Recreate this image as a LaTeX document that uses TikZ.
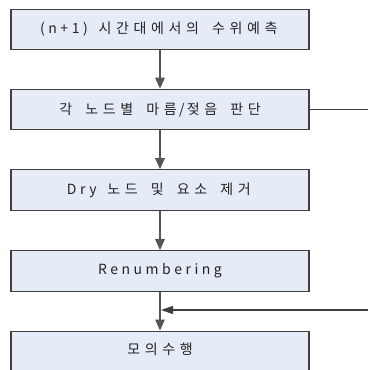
\documentclass[tikz,border=0pt]{standalone}
\usepackage{fontspec}
\newfontfamily\kr[LetterSpace=25]{Noto Sans CJK KR}
\usetikzlibrary{arrows.meta}
\definecolor{boxfill}{HTML}{E6ECF7}
\definecolor{boxline}{HTML}{404040}
\definecolor{arrline}{HTML}{555555}
\definecolor{txt}{HTML}{222222}
\makeatletter
\def\ks#1{\ks@#1\relax}
\def\ks@#1{\ifx#1\relax\else\ks@one{#1}\expandafter\ks@\fi}
\def\ks@one#1{\ifx#1~\hspace{8.5pt}\else\ifnum`#1>127 \makebox[17.5pt]{#1}\else #1\fi\fi}
\makeatother
\tikzset{
  x=1pt,y=1pt,
  steptext/.style={text=txt,inner sep=0pt,font=\kr\fontsize{14}{16}\selectfont},
  stepbox/.style={steptext,draw=boxline,line width=1.2pt,fill=boxfill,minimum width=298pt,minimum height=40.5pt},
  flow/.style={draw=arrline,line width=1.3pt,-{Triangle[length=11pt,width=9.5pt]}},
  fb/.style={draw=boxline,line width=1.2pt},
}
\begin{document}
\begin{tikzpicture}
\useasboundingbox (0,0) rectangle (368,-370);
\clip (0,0) rectangle (368,-370);
\node[stepbox] (b1) at (160,-29.5) {\ks{(n+1)~시간대에서의~수위예측}};
\node[stepbox] (b2) at (160,-109.5) {\ks{각~노드별~마름/젖음~판단}};
\node[stepbox] (b3) at (160,-190) {\ks{Dry~노드~및~요소~제거}};
\node[stepbox] (b4) at (160,-271) {\ks{Renumbering}};
\node[stepbox,minimum height=60pt,anchor=north] (b5) at (160,-330.5) {};
\node[steptext] (t5) at (160,-349.5) {\ks{모의수행}};
\draw[flow] (b1) -- (b2);
\draw[flow] (b2) -- (b3);
\draw[flow] (b3) -- (b4);
\draw[flow] (b4) -- (b5);
\coordinate (r1) at (368,-109.5);
\coordinate (r2) at (368,-310);
\coordinate (j) at (161,-310);
\draw[fb] (b2.east) -- (r1);
\draw[fb,-{Triangle[length=12pt,width=8pt]}] (r2) -- (j);
\end{tikzpicture}
\end{document}
